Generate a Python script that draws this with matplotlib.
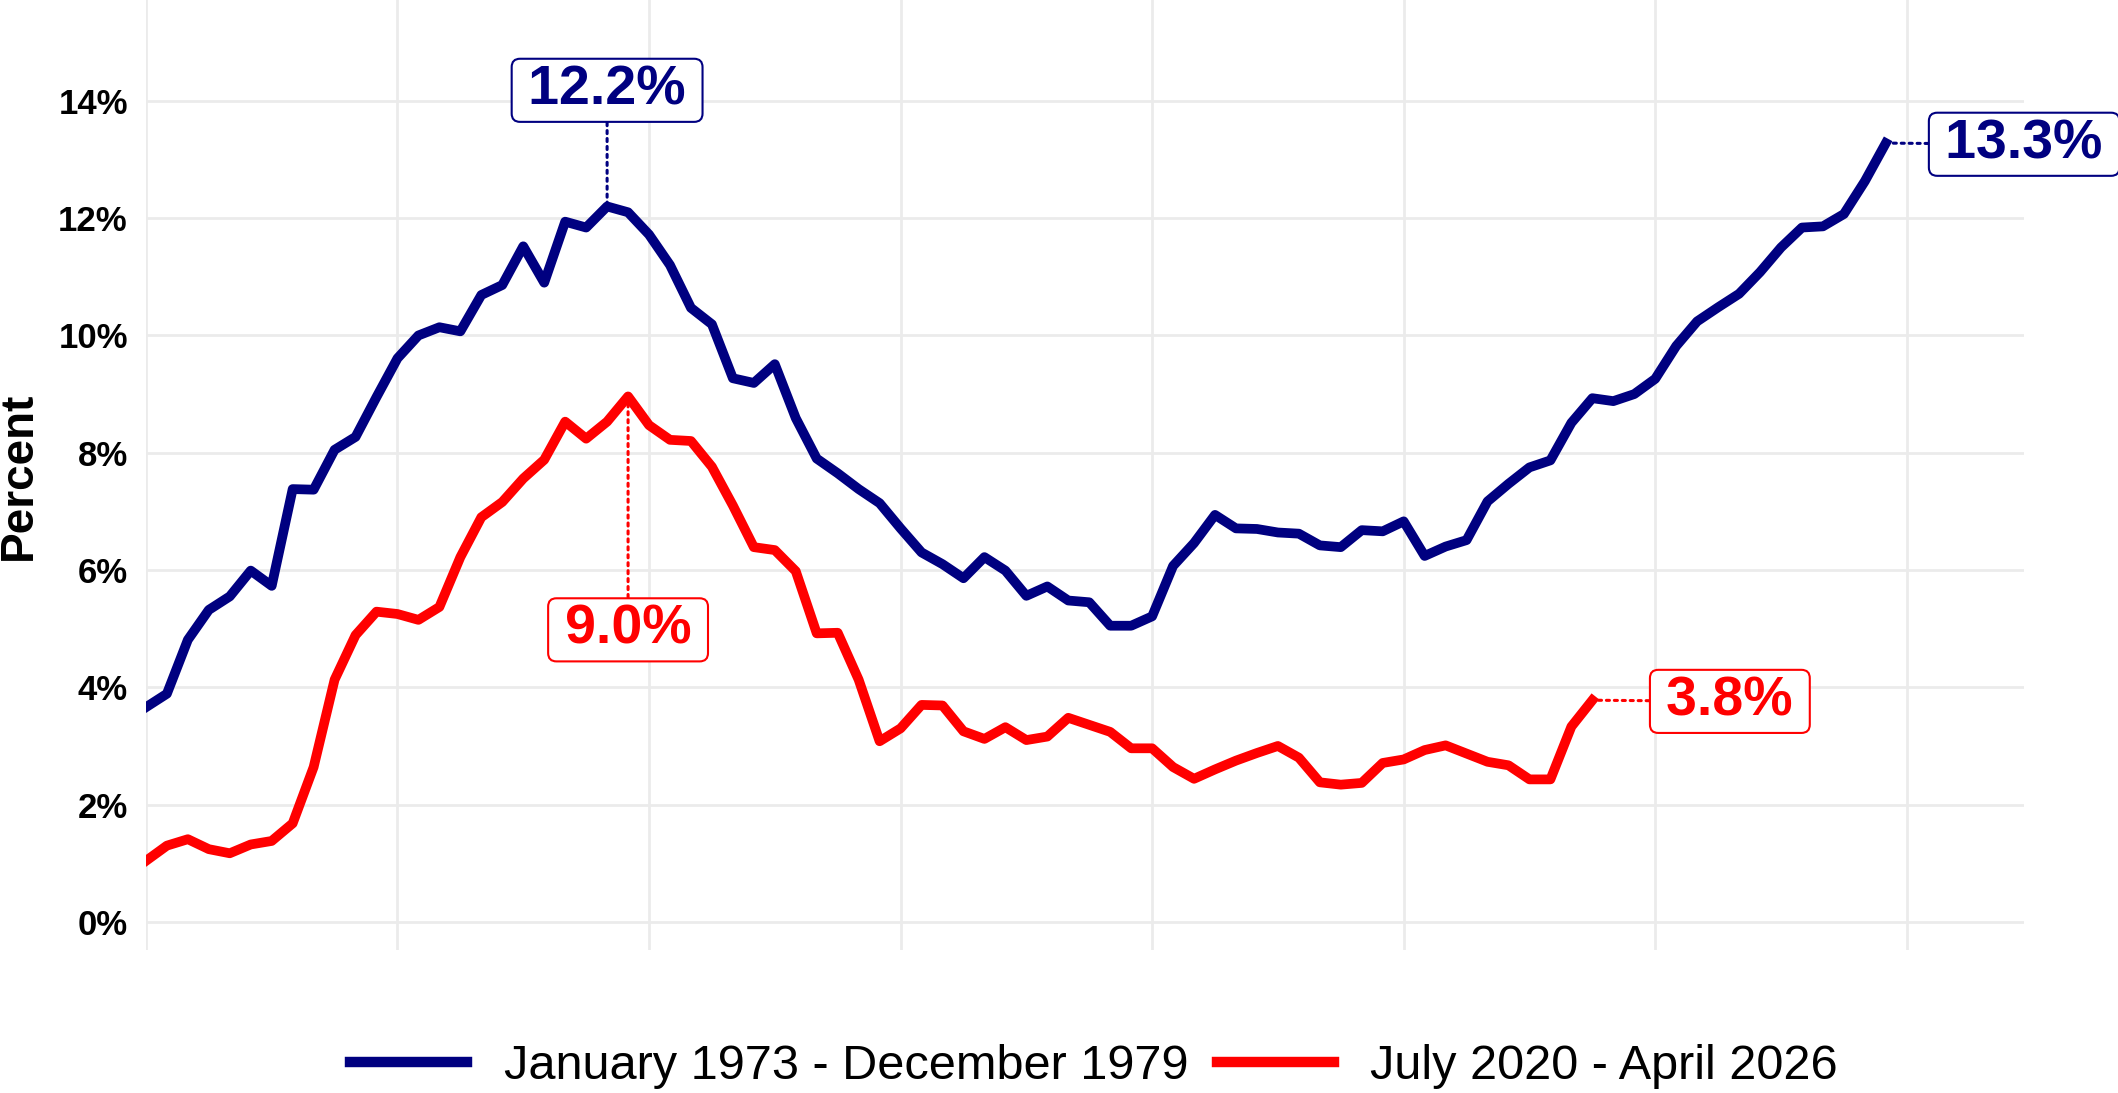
"""
Inflation in the 1970s vs the 2020s, month by month from the start of each episode.
"""

import matplotlib.pyplot as plt
from matplotlib.lines import Line2D

plt.rcParams['font.family'] = ['Liberation Sans', 'DejaVu Sans']

# year-over-year inflation, percent, one value per month
rate_1970s = [3.66, 3.89, 4.81, 5.32, 5.55, 5.99, 5.73, 7.38, 7.37, 8.05, 8.27, 8.95,
              9.61, 10.00, 10.14, 10.07, 10.69, 10.86, 11.52, 10.90, 11.94, 11.84, 12.20, 12.10,
              11.72, 11.20, 10.47, 10.19, 9.27, 9.19, 9.51, 8.59, 7.90, 7.65, 7.38, 7.14,
              6.71, 6.30, 6.10, 5.86, 6.22, 5.99, 5.56, 5.72, 5.48, 5.45, 5.05, 5.05,
              5.21, 6.07, 6.46, 6.94, 6.71, 6.70, 6.64, 6.62, 6.42, 6.39, 6.68, 6.66,
              6.83, 6.24, 6.40, 6.51, 7.17, 7.47, 7.75, 7.87, 8.51, 8.93, 8.88, 9.00,
              9.26, 9.82, 10.24, 10.48, 10.71, 11.08, 11.50, 11.84, 11.86, 12.07, 12.63, 13.28]
rate_2020s = [1.04, 1.30, 1.41, 1.24, 1.17, 1.32, 1.38, 1.68, 2.64, 4.13, 4.89, 5.29,
              5.25, 5.15, 5.37, 6.22, 6.90, 7.16, 7.56, 7.88, 8.53, 8.24, 8.53, 8.96,
              8.47, 8.22, 8.20, 7.76, 7.10, 6.39, 6.34, 5.98, 4.92, 4.93, 4.13, 3.08,
              3.30, 3.70, 3.69, 3.25, 3.12, 3.32, 3.10, 3.16, 3.48, 3.36, 3.24, 2.96,
              2.96, 2.64, 2.44, 2.60, 2.75, 2.88, 3.00, 2.80, 2.38, 2.34, 2.37, 2.71,
              2.77, 2.93, 3.01, 2.87, 2.73, 2.67, 2.43, 2.43, 3.33, 3.78]
label_1970s = 'January 1973 - December 1979'
label_2020s = 'July 2020 - April 2026'
y_ticks = [0, 2, 4, 6, 8, 10, 12, 14]
x_grid = [0, 12, 24, 36, 48, 60, 72, 84]

NAVY = '#000080'
RED = '#FF0000'

fig = plt.figure(figsize=(21.18, 10.93), dpi=100)
ax = fig.add_axes([0.0689, 0.1308, 0.8868, 0.8692])

ax.plot(range(len(rate_1970s)), rate_1970s, color=NAVY, linewidth=7)
ax.plot(range(len(rate_2020s)), rate_2020s, color=RED, linewidth=7)

ax.set_xlim(0, 89.6)
ax.set_ylim(-0.48, 15.72)
ax.set_xticks(x_grid)
ax.set_xticklabels([])
ax.set_yticks(y_ticks)
ax.set_yticklabels([f'{t}%' for t in y_ticks], fontsize=25, fontweight='bold')
ax.tick_params(length=0, pad=13)
ax.grid(color='#EBEBEB', linewidth=2.0)
ax.set_axisbelow(True)
for spine in ax.spines.values():
    spine.set_visible(False)

fig.text(0.009, 0.5645, 'Percent', rotation=90, ha='center', va='center',
         fontsize=33, fontweight='bold')


def value_label(x, y, text_x, text_y, color):
    # thin spaces give the wider side padding of the boxed labels
    ax.annotate(f'\u2009{y:.1f}%\u2009', xy=(x, y), xytext=(text_x, text_y),
                ha='center', va='center', fontsize=40, fontweight='bold', color=color,
                bbox=dict(boxstyle='round,pad=0.1,rounding_size=0.15',
                          fc='white', ec=color, lw=1.5),
                arrowprops=dict(arrowstyle='-', color=color, linestyle=(0, (1, 1.6)),
                                lw=2.2, shrinkA=0, shrinkB=0),
                annotation_clip=False)


# peak of each episode (first four years) and the latest value
peak_70 = rate_1970s.index(max(rate_1970s[:48]))
peak_20 = rate_2020s.index(max(rate_2020s[:48]))
value_label(peak_70, rate_1970s[peak_70], peak_70, 14.18, NAVY)
value_label(peak_20, rate_2020s[peak_20], peak_20, 4.98, RED)
value_label(len(rate_1970s) - 1, rate_1970s[-1], 89.6, 13.26, NAVY)
value_label(len(rate_2020s) - 1, rate_2020s[-1], 75.56, 3.76, RED)

handles = [Line2D([], [], color=NAVY, linewidth=7.5),
           Line2D([], [], color=RED, linewidth=7.5)]
fig.legend(handles, [label_1970s, label_2020s], loc='center',
           bbox_to_anchor=(0.5166, 0.024), ncol=2, frameon=False, fontsize=35,
           handlelength=2.4, handletextpad=0.75, columnspacing=0.6)

fig.savefig('out.png', dpi=100)
